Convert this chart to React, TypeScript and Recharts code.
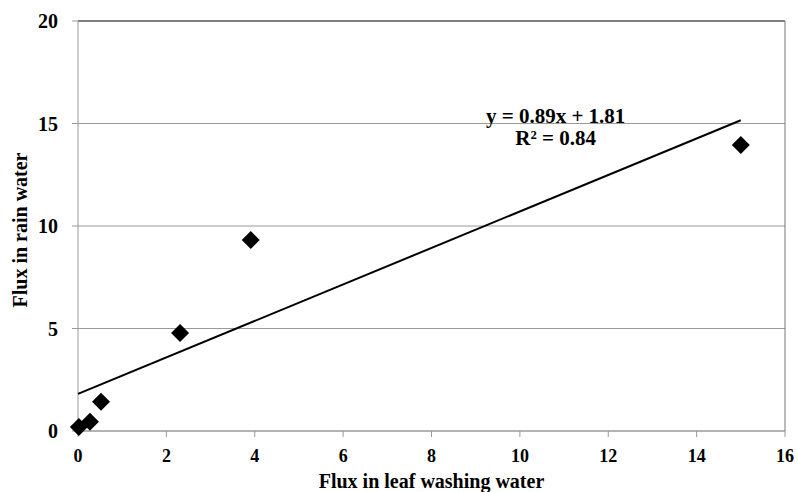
import React from "react";
import {
  ScatterChart,
  Scatter,
  XAxis,
  YAxis,
  CartesianGrid,
  ReferenceLine,
  ReferenceDot,
} from "recharts";

// measured points (leaf washing flux vs rain water flux)
const leafFlux = [0.02, 0.27, 0.52, 2.31, 3.91, 15.0];
const rainFlux = [0.2, 0.45, 1.43, 4.78, 9.32, 13.95];

// linear fit shown on the chart: y = 0.89x + 1.81
const fitX = [0, 15];
const fitY = [1.81, 15.16];

const xTicks = [0, 2, 4, 6, 8, 10, 12, 14, 16];
const yTicks = [0, 5, 10, 15, 20];

const points = leafFlux.map((x, i) => ({ x, y: rainFlux[i] }));
const fitLine = fitX.map((x, i) => ({ x, y: fitY[i] }));

const FONT = "'Liberation Serif', 'Times New Roman', serif";

const Diamond = (props: any) => {
  const { cx, cy } = props;
  const r = 9;
  return (
    <polygon
      points={`${cx},${cy - r} ${cx + r},${cy} ${cx},${cy + r} ${cx - r},${cy}`}
      fill="#000"
    />
  );
};

const xTickStyle = { fill: "#000", fontSize: 18, fontWeight: "bold", fontFamily: FONT };
const yTickStyle = { fill: "#000", fontSize: 20, fontWeight: "bold", fontFamily: FONT };

export default function App() {
  return (
    <div style={{ position: "absolute", left: 0, top: 0, background: "#fff" }}>
      <ScatterChart
        width={798}
        height={492}
        margin={{ top: 21, right: 13, left: 0, bottom: 21 }}
      >
        <CartesianGrid vertical={false} stroke="#9a9a9a" strokeWidth={1} />
        <XAxis
          type="number"
          dataKey="x"
          domain={[0, 16]}
          ticks={xTicks}
          height={40}
          stroke="#999"
          tickSize={6}
          tickMargin={12}
          tick={xTickStyle}
          label={{
            content: (p: any) => {
              const vb = p.viewBox;
              return (
                <text
                  x={vb.x + vb.width / 2}
                  y={488}
                  textAnchor="middle"
                  fontFamily={FONT}
                  fontWeight="bold"
                  fontSize={20}
                  fill="#000"
                >
                  Flux in leaf washing water
                </text>
              );
            },
          }}
        />
        <YAxis
          type="number"
          dataKey="y"
          domain={[0, 20]}
          ticks={yTicks}
          width={78}
          stroke="#999"
          tickSize={6}
          tickMargin={14}
          tick={yTickStyle}
          label={{
            content: (p: any) => {
              const vb = p.viewBox;
              const cy = vb.y + vb.height / 2 + 4;
              return (
                <text
                  x={20}
                  y={cy}
                  transform={`rotate(-90 20 ${cy})`}
                  textAnchor="middle"
                  dominantBaseline="central"
                  fontFamily={FONT}
                  fontWeight="bold"
                  fontSize={20}
                  fill="#000"
                >
                  Flux in rain water
                </text>
              );
            },
          }}
        />
        <ReferenceLine y={20} stroke="#333" strokeWidth={1} />
        <ReferenceLine x={16} stroke="#777" strokeWidth={1} />
        <Scatter
          data={fitLine}
          line={{ stroke: "#000", strokeWidth: 2 }}
          shape={() => null}
          isAnimationActive={false}
        />
        <Scatter data={points} shape={<Diamond />} isAnimationActive={false} />
        <ReferenceDot
          x={10.81}
          y={15.41}
          r={0}
          stroke="none"
          label={{
            value: "y = 0.89x + 1.81",
            position: "center",
            fill: "#000",
            fontFamily: FONT,
            fontWeight: "bold",
            fontSize: 21,
          }}
        />
        <ReferenceDot
          x={10.81}
          y={14.3}
          r={0}
          stroke="none"
          label={{
            value: "R² = 0.84",
            position: "center",
            fill: "#000",
            fontFamily: FONT,
            fontWeight: "bold",
            fontSize: 21,
          }}
        />
      </ScatterChart>
    </div>
  );
}
